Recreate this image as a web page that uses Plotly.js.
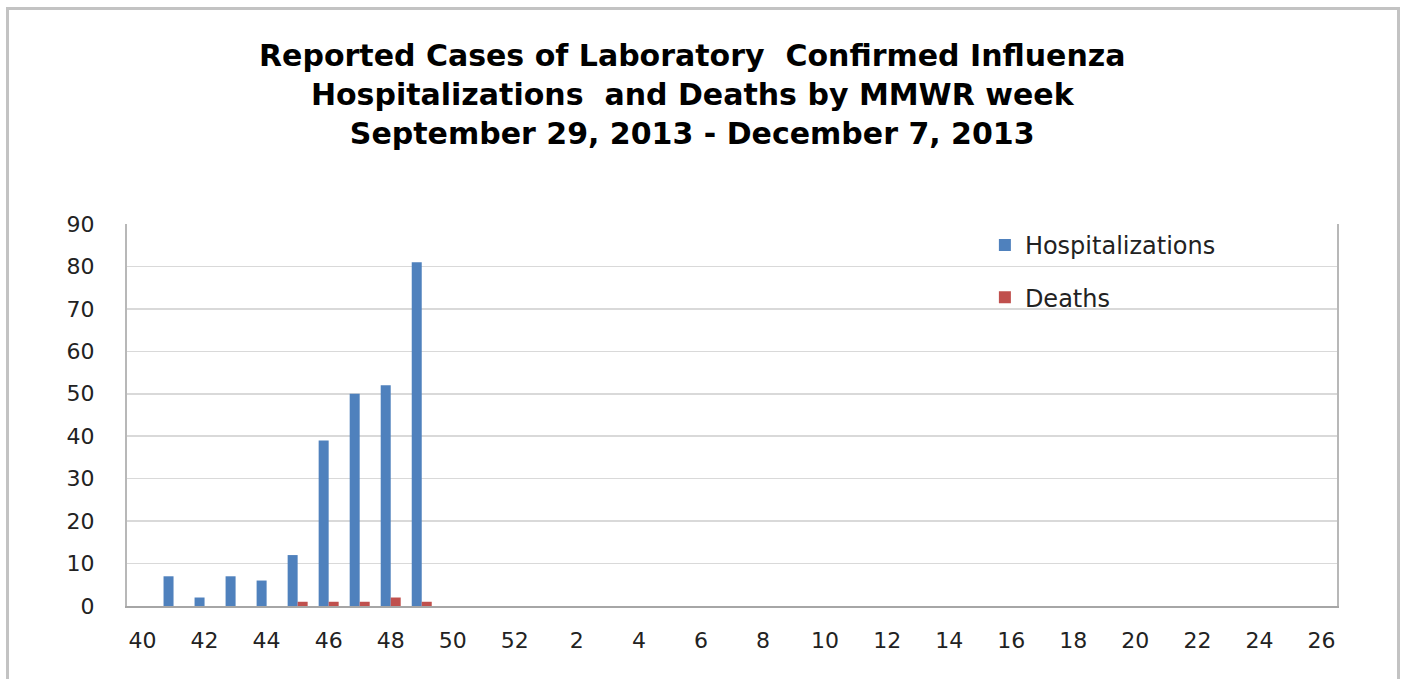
<!DOCTYPE html>
<html>
<head>
<meta charset="utf-8">
<script src="https://cdn.plot.ly/plotly-3.0.1.min.js"></script>
<style>
  html, body { margin: 0; padding: 0; background: #ffffff; overflow: hidden; }
  #frame { position: absolute; left: 6px; top: 7px; width: 1394px; height: 700px;
           border-left: 3px solid #c3c3c3; border-top: 3px solid #c3c3c3; border-right: 3px solid #c3c3c3; box-sizing: border-box; }
  #chart { position: absolute; left: 0; top: 0; width: 1407px; height: 679px; }
</style>
</head>
<body>
<div id="frame"></div>
<div id="chart"></div>
<script>
// MMWR weeks, 40..52 then 1..26
const weeks = ["40","41","42","43","44","45","46","47","48","49","50","51","52",
  "1","2","3","4","5","6","7","8","9","10","11","12","13","14","15","16","17","18","19","20","21","22","23","24","25","26"];
const hospitalizations = [0,7,2,7,6,12,39,50,52,81,null,null,null,
  null,null,null,null,null,null,null,null,null,null,null,null,null,null,null,null,null,null,null,null,null,null,null,null,null,null];
const deaths = [0,0,0,0,0,1,1,1,2,1,null,null,null,
  null,null,null,null,null,null,null,null,null,null,null,null,null,null,null,null,null,null,null,null,null,null,null,null,null,null];
const tickWeeks = ["40","42","44","46","48","50","52","2","4","6","8","10","12","14","16","18","20","22","24","26"];
const yTicks = [0,10,20,30,40,50,60,70,80,90];

const tickFont = {family: "DejaVu Sans, Verdana, sans-serif", size: 22, color: "#222222"};
const legendFont = {family: "DejaVu Sans, Verdana, sans-serif", size: 24, color: "#222222"};

const data = [
  {type: "bar", name: "Hospitalizations", x: weeks, y: hospitalizations,
   marker: {color: "#4F81BD"}, legendgroup: "h"},
  {type: "bar", name: "Deaths", x: weeks, y: deaths,
   marker: {color: "#C0504D"}, legendgroup: "d"}
];

const layout = {
  width: 1407, height: 679,
  paper_bgcolor: "rgba(0,0,0,0)", plot_bgcolor: "#ffffff",
  margin: {l: 127, r: 70, t: 224, b: 73},
  barmode: "group", bargap: 0.355, bargroupgap: 0,
  title: {
    text: "Reported Cases of Laboratory  Confirmed Influenza<br>Hospitalizations  and Deaths by MMWR week<br>September 29, 2013 - December 7, 2013",
    font: {family: "DejaVu Sans, sans-serif", size: 30, color: "#000000", weight: "bold"},
    x: 0.492, xref: "container", xanchor: "center",
    y: 1 - 66/679, yref: "container", yanchor: "top"
  },
  xaxis: {
    type: "category", categoryorder: "array", categoryarray: weeks,
    tickmode: "array", tickvals: tickWeeks, ticktext: tickWeeks,
    tickfont: tickFont, ticks: "", ticklabelstandoff: 14,
    showline: true, linecolor: "#a6a6a6", linewidth: 2,
    showgrid: false, zeroline: false, fixedrange: true
  },
  yaxis: {
    range: [0, 90], tickmode: "array", tickvals: yTicks, ticktext: yTicks.map(String),
    tickfont: tickFont, ticks: "", ticklabelstandoff: 26,
    showline: true, linecolor: "#b8b8b8", linewidth: 2, mirror: true,
    showgrid: true, gridcolor: "#d9d9d9", gridwidth: 1.5,
    zeroline: false, fixedrange: true
  },
  showlegend: true,
  legend: {
    x: 0.709, y: 1.003, xanchor: "left", yanchor: "top",
    font: legendFont, bgcolor: "rgba(0,0,0,0)",
    traceorder: "grouped", tracegroupgap: 18,
    itemwidth: 30
  }
};

Plotly.newPlot("chart", data, layout, {displayModeBar: false, staticPlot: true});
</script>
</body>
</html>
